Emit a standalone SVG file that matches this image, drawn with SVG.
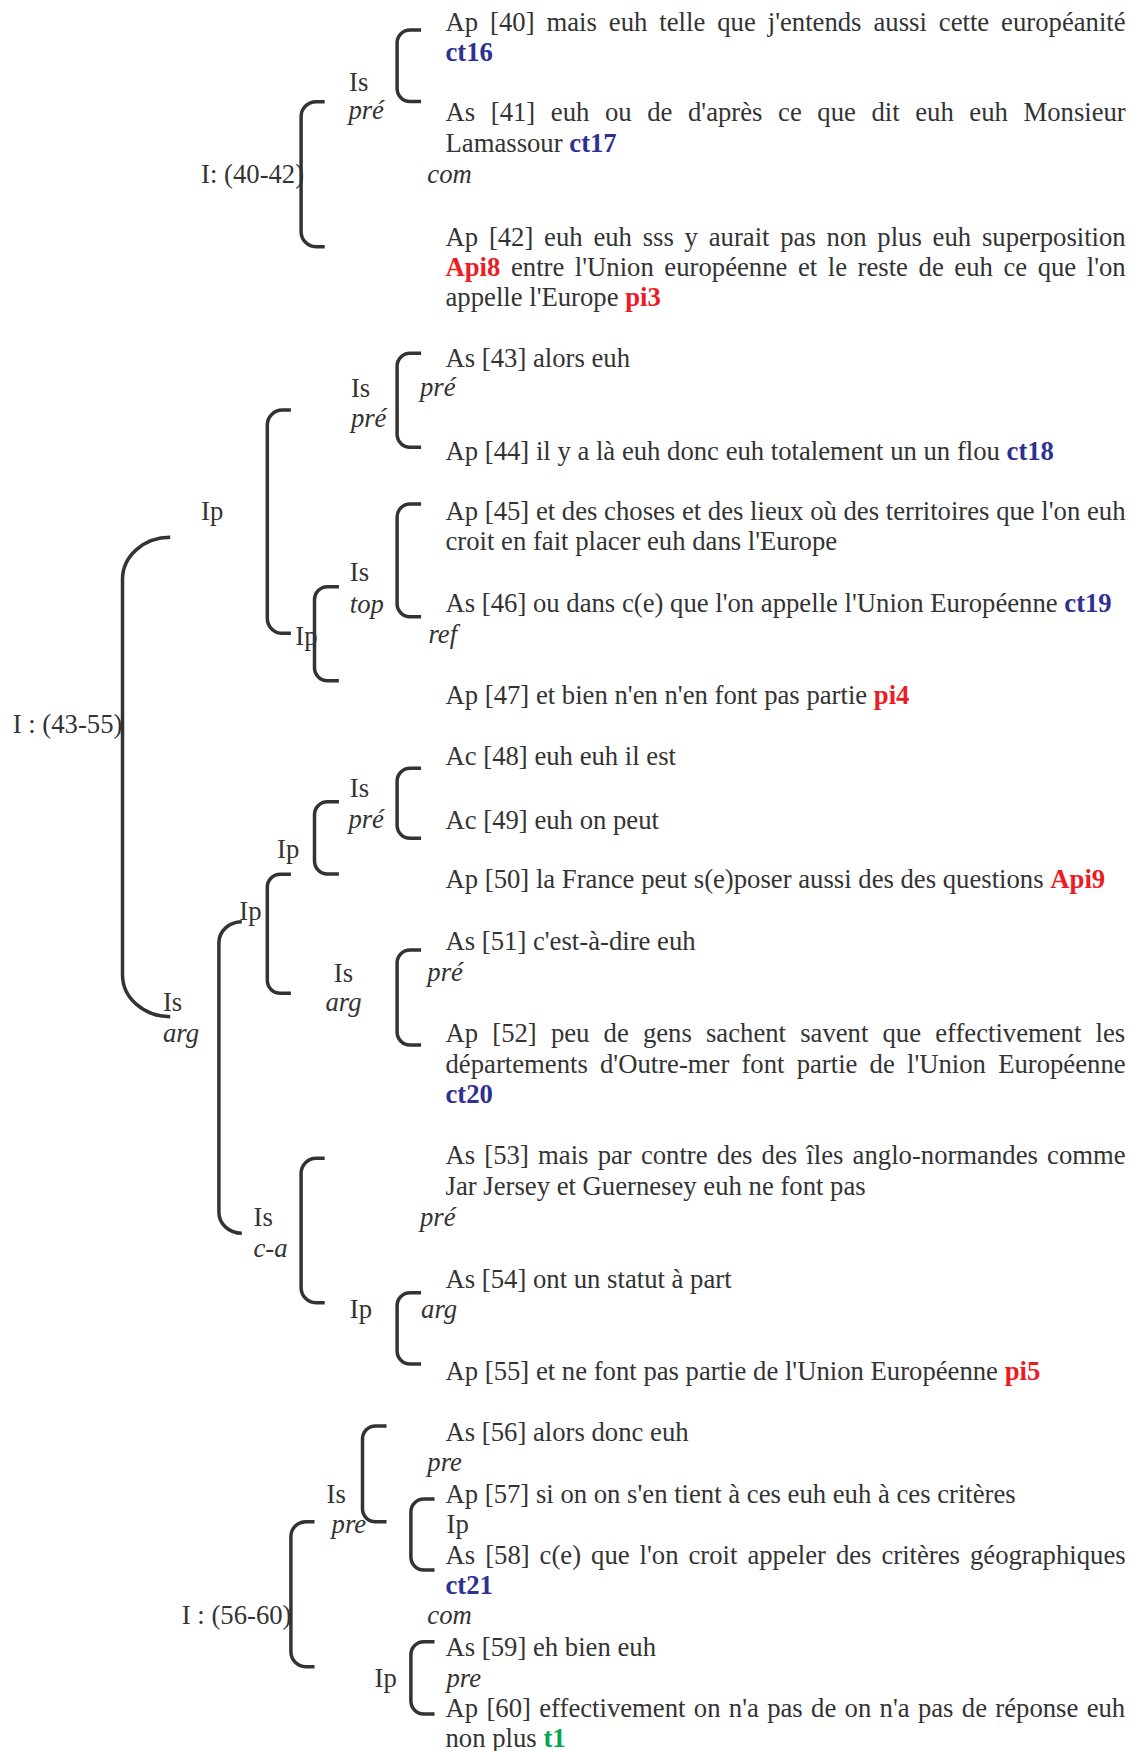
<svg xmlns="http://www.w3.org/2000/svg" width="1139" height="1751" viewBox="0 0 1139 1751">
<style>
text{font-family:"Liberation Serif","Times New Roman",serif;font-size:26.7px;fill:#333333}
.it{font-style:italic}
.cb{font-weight:bold;fill:#2e3192}
.cr{font-weight:bold;fill:#ed1c24}
.cg{font-weight:bold;fill:#00a651}
.br{fill:none;stroke:#333333;stroke-width:3.5;stroke-linecap:butt}
</style>
<rect width="1139" height="1751" fill="#ffffff"/>
<g id="connectors">
<path class="br" d="M421.1,30 H410.1 A13 13 0 0 0 397.1,43 V88.5 A13 13 0 0 0 410.1,101.5 H421.1"/>
<path class="br" d="M324.7,101.7 H316.1 A15 15 0 0 0 301.1,116.7 V231.7 A15 15 0 0 0 316.1,246.7 H324.7"/>
<path class="br" d="M421.1,353.3 H410.1 A13 13 0 0 0 397.1,366.3 V434.3 A13 13 0 0 0 410.1,447.3 H421.1"/>
<path class="br" d="M290.9,410 H282.3 A15 15 0 0 0 267.3,425 V618.3 A15 15 0 0 0 282.3,633.3 H290.9"/>
<path class="br" d="M421.1,504 H410.1 A13 13 0 0 0 397.1,517 V603.7 A13 13 0 0 0 410.1,616.7 H421.1"/>
<path class="br" d="M338.9,586.7 H327.5 A13 13 0 0 0 314.5,599.7 V667.7 A13 13 0 0 0 327.5,680.7 H338.9"/>
<path class="br" d="M170.2,537.3 A47.7 42 0 0 0 122.5,579.3 V974.7 A47.7 42 0 0 0 170.2,1016.7"/>
<path class="br" d="M421.1,768.3 H410.1 A13 13 0 0 0 397.1,781.3 V825.3 A13 13 0 0 0 410.1,838.3 H421.1"/>
<path class="br" d="M338.9,801.7 H327.5 A13 13 0 0 0 314.5,814.7 V861 A13 13 0 0 0 327.5,874 H338.9"/>
<path class="br" d="M290.9,874.3 H280.3 A13 13 0 0 0 267.3,887.3 V980.3 A13 13 0 0 0 280.3,993.3 H290.9"/>
<path class="br" d="M421.1,950 H410.1 A13 13 0 0 0 397.1,963 V1032 A13 13 0 0 0 410.1,1045 H421.1"/>
<path class="br" d="M241.8,921.7 A22.9 21 0 0 0 218.9,942.7 V1212.3 A22.9 21 0 0 0 241.8,1233.3"/>
<path class="br" d="M324.7,1158.3 H316.1 A15 15 0 0 0 301.1,1173.3 V1287.7 A15 15 0 0 0 316.1,1302.7 H324.7"/>
<path class="br" d="M421.1,1292.7 H410.1 A13 13 0 0 0 397.1,1305.7 V1351 A13 13 0 0 0 410.1,1364 H421.1"/>
<path class="br" d="M386.5,1426 H375.5 A13 13 0 0 0 362.5,1439 V1508.7 A13 13 0 0 0 375.5,1521.7 H386.5"/>
<path class="br" d="M434.5,1499 H423.9 A13 13 0 0 0 410.9,1512 V1557 A13 13 0 0 0 423.9,1570 H434.5"/>
<path class="br" d="M314.5,1521.7 H305.9 A15 15 0 0 0 290.9,1536.7 V1651.7 A15 15 0 0 0 305.9,1666.7 H314.5"/>
<path class="br" d="M434.5,1641.7 H423.9 A13 13 0 0 0 410.9,1654.7 V1701 A13 13 0 0 0 423.9,1714 H434.5"/>
</g>
<g id="n-I-40-42"><text x="201.1" y="182.7">I: (40-42)</text></g>
<g id="n-Is-pre-1"><text x="349.1" y="90.7">Is</text><text class="it" x="348.4" y="119.3">pré</text></g>
<g id="n-40"><text x="445.5" y="30.5" word-spacing="5.29">Ap [40] mais euh telle que j'entends aussi cette européanité</text><text class="cb" x="445.5" y="61">ct16</text></g>
<g id="n-41"><text x="445.5" y="120.7" word-spacing="8.92">As [41] euh ou de d'après ce que dit euh euh Monsieur</text><text x="445.5" y="151.7">Lamassour <tspan class="cb">ct17</tspan></text></g>
<g id="n-com-1"><text class="it" x="427.3" y="182.7">com</text></g>
<g id="n-42"><text x="445.5" y="246" word-spacing="4.09">Ap [42] euh euh sss y aurait pas non plus euh superposition</text><text x="445.5" y="276" word-spacing="3.9"><tspan class="cr">Api8</tspan> entre l'Union européenne et le reste de euh ce que l'on</text><text x="445.5" y="306">appelle l'Europe <tspan class="cr">pi3</tspan></text></g>

<g id="n-I-43-55"><text x="12.7" y="733.3">I : (43-55)</text></g>
<g id="n-Ip-1"><text x="201.1" y="520">Ip</text></g>
<g id="n-Is-pre-2"><text x="350.9" y="396.7">Is</text><text class="it" x="350.9" y="426.7">pré</text></g>
<g id="n-pre-43"><text class="it" x="420" y="396">pré</text></g>
<g id="n-43"><text x="445.5" y="366.7">As [43] alors euh</text></g>
<g id="n-44"><text x="445.5" y="459.5">Ap [44] il y a là euh donc euh totalement un un flou <tspan class="cb">ct18</tspan></text></g>
<g id="n-45"><text x="445.5" y="520">Ap [45] et des choses et des lieux où des territoires que l'on euh</text><text x="445.5" y="550">croit en fait placer euh dans l'Europe</text></g>
<g id="n-Is-top"><text x="349.8" y="580.7">Is</text><text class="it" x="349.8" y="612.7">top</text></g>
<g id="n-46"><text x="445.5" y="611.7">As [46] ou dans c(e) que l'on appelle l'Union Européenne <tspan class="cb">ct19</tspan></text></g>
<g id="n-Ip-2"><text x="295.3" y="645">Ip</text></g>
<g id="n-ref"><text class="it" x="428.4" y="643.3">ref</text></g>
<g id="n-47"><text x="445.5" y="703.5">Ap [47] et bien n'en n'en font pas partie <tspan class="cr">pi4</tspan></text></g>

<g id="n-48"><text x="445.5" y="765">Ac [48] euh euh il est</text></g>
<g id="n-Is-pre-3"><text x="349.8" y="796.5">Is</text><text class="it" x="348.4" y="827.5">pré</text></g>
<g id="n-49"><text x="445.5" y="828.5">Ac [49] euh on peut</text></g>
<g id="n-Ip-3"><text x="277.1" y="857.7">Ip</text></g>
<g id="n-50"><text x="445.5" y="887.7">Ap [50] la France peut s(e)poser aussi des des questions <tspan class="cr">Api9</tspan></text></g>
<g id="n-Ip-4"><text x="239.3" y="920">Ip</text></g>
<g id="n-51"><text x="445.5" y="950.3">As [51] c'est-à-dire euh</text></g>
<g id="n-pre-51"><text class="it" x="427.3" y="980.5">pré</text></g>
<g id="n-Is-arg-1"><text x="333.8" y="981.5">Is</text><text class="it" x="325.5" y="1011">arg</text></g>
<g id="n-Is-arg-2"><text x="162.9" y="1011">Is</text><text class="it" x="162.9" y="1041.7">arg</text></g>
<g id="n-52"><text x="445.5" y="1042" word-spacing="7.48">Ap [52] peu de gens sachent savent que effectivement les</text><text x="445.5" y="1072.7" word-spacing="5.53">départements d'Outre-mer font partie de l'Union Européenne</text><text class="cb" x="445.5" y="1102.7">ct20</text></g>
<g id="n-53"><text x="445.5" y="1164.3" word-spacing="2.53">As [53] mais par contre des des îles anglo-normandes comme</text><text x="445.5" y="1195">Jar Jersey et Guernesey euh ne font pas</text></g>
<g id="n-Is-ca"><text x="253.5" y="1225.5">Is</text><text class="it" x="253.5" y="1256.5">c-a</text></g>
<g id="n-pre-53"><text class="it" x="420" y="1225.5">pré</text></g>
<g id="n-54"><text x="445.5" y="1287.7">As [54] ont un statut à part</text></g>
<g id="n-Ip-5"><text x="349.8" y="1318.3">Ip</text></g>
<g id="n-arg-54"><text class="it" x="421.1" y="1317.5">arg</text></g>
<g id="n-55"><text x="445.5" y="1379.5">Ap [55] et ne font pas partie de l'Union Européenne <tspan class="cr">pi5</tspan></text></g>

<g id="n-56"><text x="445.5" y="1440.5">As [56] alors donc euh</text></g>
<g id="n-pre-56"><text class="it" x="427.3" y="1471">pre</text></g>
<g id="n-Is-pre-4"><text x="326.5" y="1502.5">Is</text><text class="it" x="331.6" y="1532.5">pre</text></g>
<g id="n-57"><text x="445.5" y="1502.5">Ap [57] si on on s'en tient à ces euh euh à ces critères</text></g>
<g id="n-Ip-6"><text x="446.5" y="1532.5">Ip</text></g>
<g id="n-58"><text x="445.5" y="1563.5" word-spacing="3.32">As [58] c(e) que l'on croit appeler des critères géographiques</text><text class="cb" x="445.5" y="1594">ct21</text></g>
<g id="n-I-56-60"><text x="181.8" y="1624.3">I : (56-60)</text></g>
<g id="n-com-2"><text class="it" x="427.3" y="1624.3">com</text></g>
<g id="n-59"><text x="445.5" y="1655.5">As [59] eh bien euh</text></g>
<g id="n-Ip-7"><text x="374.5" y="1686.7">Ip</text></g>
<g id="n-pre-59"><text class="it" x="446.5" y="1687">pre</text></g>
<g id="n-60"><text x="445.5" y="1716.5" word-spacing="1.66">Ap [60] effectivement on n'a pas de on n'a pas de réponse euh</text><text x="445.5" y="1747">non plus <tspan class="cg">t1</tspan></text></g>
</svg>
